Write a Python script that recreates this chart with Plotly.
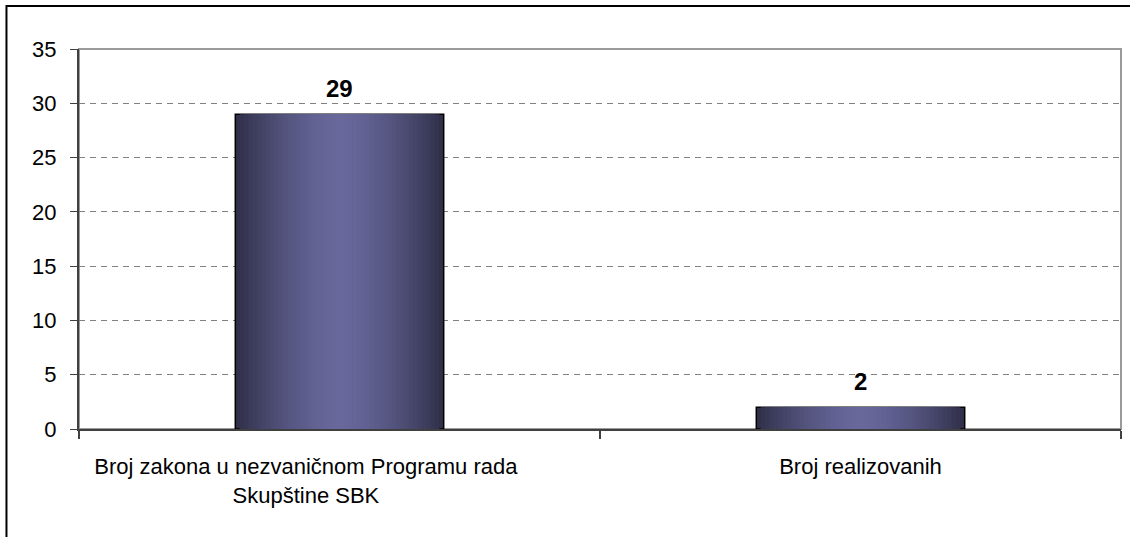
import numpy as np
import plotly.graph_objects as go

categories = ["Broj zakona u nezvaničnom Programu rada<br>Skupštine SBK", "Broj realizovanih"]
values = [29, 2]
y_ticks = [0, 5, 10, 15, 20, 25, 30, 35]

FONT = "Arial, Liberation Sans, sans-serif"
BAR_W = 0.4
EDGE = np.array([0x30, 0x30, 0x4a])
CENTER = np.array([0x68, 0x68, 0x9c])

# first label sits a little left of its bar in the original (wrapped text)
PAD = "\u00a0" * 11
tick_text = [
    "<br>".join(part + PAD for part in categories[0].split("<br>")),
    categories[1],
]

fig = go.Figure()

# nested overlaid bars to imitate the horizontal gradient fill
n = 24
for k in range(n):
    t = 1 - k / n
    w = BAR_W * t
    mix = t ** 1.6
    c = CENTER + (EDGE - CENTER) * mix
    col = "rgb(%d,%d,%d)" % tuple(int(round(v)) for v in c)
    fig.add_trace(go.Bar(
        x=categories, y=values, width=w,
        marker=dict(color=col,
                    line=dict(color="black", width=1.5 if k == 0 else 0)),
        hoverinfo="y" if k == 0 else "skip",
        showlegend=False,
    ))

for cat, v in zip(categories, values):
    fig.add_annotation(x=cat, y=v, text="<b>%d</b>" % v, showarrow=False,
                       yanchor="bottom", yshift=10,
                       font=dict(family=FONT, size=24, color="black"))

# plot-area border (gray) and outer chart border (black)
fig.add_shape(type="rect", xref="paper", yref="paper", x0=0, x1=1, y0=0, y1=1,
              line=dict(color="#9a9a9a", width=2), layer="below")
fig.add_shape(type="rect", xref="paper", yref="paper",
              x0=-0.0696, x1=1.02, y0=-0.3, y1=1.1132,
              line=dict(color="black", width=2), layer="below")

fig.update_layout(
    width=1130, height=537,
    margin=dict(l=79, r=9, t=49, b=108),
    paper_bgcolor="white", plot_bgcolor="white",
    barmode="overlay",
    font=dict(family=FONT, size=22, color="black"),
    xaxis=dict(
        type="category", range=[-0.5, 1.5],
        tickmode="array", tickvals=categories, ticktext=tick_text,
        showline=True, linecolor="#404040", linewidth=2,
        ticks="outside", tickson="boundaries", ticklen=8, tickwidth=1.5,
        tickcolor="#404040", showgrid=False,
        tickfont=dict(family=FONT, size=22, color="black"),
        ticklabelstandoff=17,
    ),
    yaxis=dict(
        range=[0, 35], tickvals=y_ticks,
        showline=True, linecolor="#404040", linewidth=2,
        ticks="outside", ticklen=7, tickwidth=1, tickcolor="#404040",
        showgrid=True, gridcolor="#808080", gridwidth=1, griddash="6px,5px",
        zeroline=False,
        tickfont=dict(family=FONT, size=22, color="black"),
        ticklabelstandoff=9,
    ),
)

fig.write_html("out.html",
               config={"displayModeBar": False},
               post_script="document.body.style.margin='0px';document.body.style.overflow='hidden';")
